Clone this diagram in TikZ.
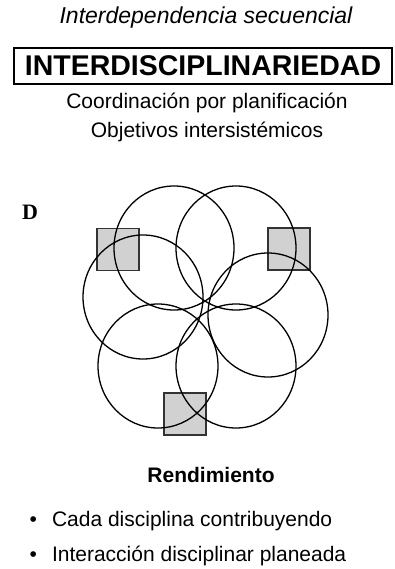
\documentclass[tikz,border=0pt]{standalone}
\usepackage{fontspec}
\setmainfont{Liberation Sans}
\newfontfamily\letterfont{Liberation Serif}
\usetikzlibrary{
  shapes.geometric,
  positioning,
}
\tikzset{
  heading/.style={
    inner sep=0pt,
    anchor=base,
    font=\fontsize{21}{25}\selectfont
  },
  banner/.style={
    rectangle,
    draw=black,
    line width=2.5pt,
    minimum width=378pt,
    minimum height=36pt,
    inner sep=0pt,
    font=\bfseries\fontsize{28.5}{32}\selectfont
  },
  ring/.style={
    ellipse,
    draw=black,
    line width=1.3pt,
    minimum width=120pt,
    minimum height=124pt,
    inner sep=0pt
  },
  tile/.style={
    rectangle,
    draw=black!80,
    fill=black!18,
    line width=1.5pt,
    minimum size=42pt,
    inner sep=0pt
  },
  item/.style={
    inner sep=0pt,
    anchor=base west,
    font=\fontsize{21}{25}\selectfont
  },
}

\begin{document}
\begin{tikzpicture}[x=1pt, y=1pt]
  \useasboundingbox (0,0) rectangle (394,-569);

  % Headings
  \node (mode) [heading, font=\itshape\fontsize{23}{27}\selectfont] at (206,-24) {Interdependencia secuencial};
  \node (level) [banner] at (203,-66) {INTERDISCIPLINARIEDAD};
  \node (coord) [heading] at (207,-109) {Coordinación por planificación};
  \node (goals) [heading, below=29pt of coord.base, anchor=base] {Objetivos intersistémicos};

  % Letter
  \node (letter) [heading, font=\letterfont\bfseries\fontsize{22}{26}\selectfont] at (30,-219) {D};

  % Shared tiles
  \node (tileNW) [tile] at (118,-249.5) {};
  \node (tileNE) [tile] at (289,-249) {};
  \node (tileS) [tile] at (185,-414) {};

  % Disciplines
  \node (ringNW) [ring] at (174,-248) {};
  \node (ringNE) [ring] at (236,-248) {};
  \node (ringE) [ring] at (268,-315) {};
  \node (ringSE) [ring] at (236,-366) {};
  \node (ringSW) [ring] at (158,-366) {};
  \node (ringW) [ring] at (143,-297) {};

  % Result
  \node (result) [heading, font=\bfseries\fontsize{21}{25}\selectfont] at (211,-482) {Rendimiento};
  \node (item1) [item] at (29.5,-526) {•\hspace{15pt}Cada disciplina contribuyendo};
  \node (item2) [item, below=35pt of item1.base west, anchor=base west] {•\hspace{15pt}Interacción disciplinar planeada};

\end{tikzpicture}
\end{document}
